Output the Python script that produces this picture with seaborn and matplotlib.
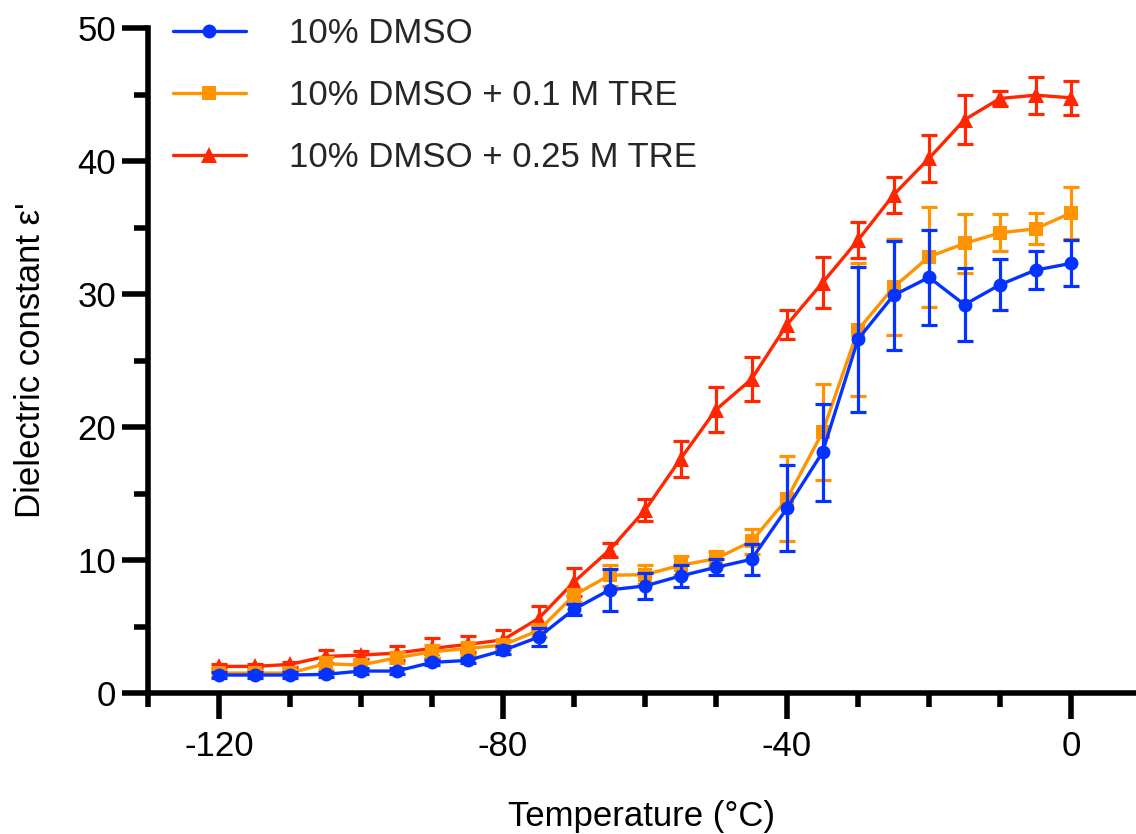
import numpy as np
import pandas as pd
import matplotlib
matplotlib.use("Agg")
import matplotlib.pyplot as plt
import seaborn as sns
from matplotlib.ticker import MultipleLocator

# ---------------- data ----------------
temperature = [-120, -115, -110, -105, -100, -95, -90, -85, -80, -75, -70, -65, -60,
               -55, -50, -45, -40, -35, -30, -25, -20, -15, -10, -5, 0]

series_names = ["10% DMSO", "10% DMSO + 0.1 M TRE", "10% DMSO + 0.25 M TRE"]

dmso_mean = [1.35, 1.35, 1.35, 1.4, 1.65, 1.65, 2.3, 2.45, 3.2, 4.2, 6.3, 7.75, 8.05,
             8.8, 9.45, 10.05, 13.9, 18.1, 26.6, 29.9, 31.25, 29.2, 30.7, 31.8, 32.3]
dmso_err = [0.2, 0.2, 0.2, 0.2, 0.2, 0.2, 0.2, 0.2, 0.3, 0.65, 0.4, 1.6, 0.95,
            0.8, 0.6, 1.16, 3.25, 3.66, 5.45, 4.1, 3.57, 2.73, 1.94, 1.43, 1.73]

tre01_mean = [1.5, 1.5, 1.5, 2.2, 2.1, 2.65, 3.1, 3.35, 3.6, 4.7, 7.35, 8.85, 8.9,
              9.6, 10.1, 11.4, 14.6, 19.6, 27.3, 30.5, 32.8, 33.8, 34.6, 34.9, 36.1]
tre01_err = [0.2, 0.2, 0.2, 0.5, 0.3, 0.4, 0.5, 0.5, 0.4, 0.5, 0.5, 0.8, 0.7,
             0.7, 0.55, 0.95, 3.2, 3.6, 5.0, 3.6, 3.76, 2.25, 1.4, 1.16, 1.98]

tre025_mean = [2.0, 2.0, 2.15, 2.75, 2.85, 3.0, 3.35, 3.65, 4.0, 5.6, 8.35, 10.75, 13.75,
               17.6, 21.3, 23.6, 27.7, 30.85, 34.05, 37.45, 40.2, 43.1, 44.7, 44.95, 44.75]
tre025_err = [0.15, 0.15, 0.2, 0.5, 0.3, 0.5, 0.75, 0.6, 0.7, 0.95, 1.07, 0.55, 0.8,
              1.34, 1.67, 1.64, 1.06, 1.9, 1.34, 1.35, 1.75, 1.83, 0.54, 1.38, 1.3]

colors = ["#0433FF", "#FF9300", "#FF2600"]
markers = ["o", "s", "^"]
marker_sizes = [10, 9.8, 11]

frames = []
for name, m, e in zip(series_names, [dmso_mean, tre01_mean, tre025_mean],
                      [dmso_err, tre01_err, tre025_err]):
    frames.append(pd.DataFrame({"Temperature": temperature, "eps": m, "err": e, "series": name}))
df = pd.concat(frames, ignore_index=True)

# ---------------- style ----------------
sns.set_theme(style="ticks")
plt.rcParams["font.family"] = ["Liberation Sans", "DejaVu Sans"]

W, H = 1136, 834
fig = plt.figure(figsize=(W / 100, H / 100), dpi=100)
ax = fig.add_axes([148 / W, (H - 693) / H, (W - 148) / W, (693 - 28) / H])

# draw red first, blue last (blue on top)
for idx in [2, 1, 0]:
    name = series_names[idx]
    sub = df[df["series"] == name]
    z = 3 + (2 - idx)
    ax.errorbar(sub["Temperature"], sub["eps"], yerr=sub["err"], fmt="none",
                ecolor=colors[idx], elinewidth=2.3, capsize=5.8, capthick=2.3,
                zorder=z, clip_on=False)
    sns.lineplot(data=sub, x="Temperature", y="eps", ax=ax, color=colors[idx],
                 marker=markers[idx], markersize=marker_sizes[idx], markeredgewidth=0,
                 linewidth=2.4, label=name, zorder=z + 0.5, clip_on=False,
                 errorbar=None)

ax.set_xlim(-130, 9.15)
ax.set_ylim(0, 50)

ax.xaxis.set_minor_locator(MultipleLocator(10))
ax.yaxis.set_minor_locator(MultipleLocator(5))
ax.set_xticks([-120, -80, -40, 0])
ax.set_xticklabels(["-120", "-80", "-40", "0"])
ax.set_yticks([0, 10, 20, 30, 40, 50])

for s in ["top", "right"]:
    ax.spines[s].set_visible(False)
for s in ["left", "bottom"]:
    ax.spines[s].set_linewidth(4)
    ax.spines[s].set_color("black")
ax.spines["left"].set_bounds(0, 50)

ax.tick_params(axis="both", which="major", length=19, width=4, color="black",
               labelsize=25, labelcolor="black")
ax.tick_params(axis="both", which="minor", length=10, width=4, color="black")
ax.tick_params(axis="x", which="major", pad=8)
ax.tick_params(axis="y", which="major", pad=4)

ax.set_xlabel("Temperature (°C)", fontsize=25, labelpad=26, color="black")
ax.set_ylabel("Dielectric constant ε'", fontsize=25, labelpad=22, color="black")

# legend in original order
h, l = ax.get_legend_handles_labels()
order = [l.index(n) for n in series_names]
leg = ax.legend([h[i] for i in order], [l[i] for i in order],
                loc="upper left", bbox_to_anchor=(173 / W, (H - 17) / H),
                bbox_transform=fig.transFigure, frameon=False, fontsize=25,
                handlelength=2.1, handletextpad=1.25, labelspacing=0.84,
                borderpad=0, borderaxespad=0)

fig.savefig("out.png", dpi=100)
